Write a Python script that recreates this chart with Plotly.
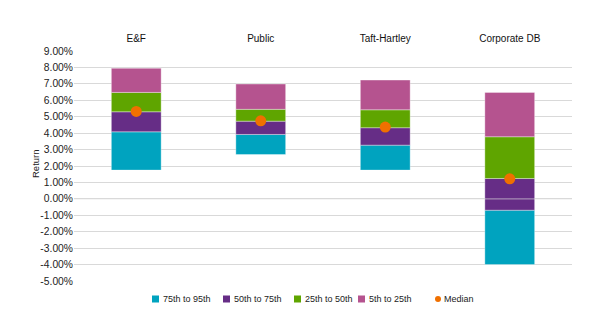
import plotly.graph_objects as go

# Return distribution by plan type (percent)
categories = ["E&F", "Public", "Taft-Hartley", "Corporate DB"]
p95 = [1.75, 2.70, 1.75, -4.00]
p75 = [4.08, 3.92, 3.27, -0.69]
p50 = [5.30, 4.73, 4.33, 1.24]
p25 = [6.48, 5.45, 5.42, 3.78]
p5 = [7.95, 6.99, 7.23, 6.48]
median = [5.32, 4.75, 4.37, 1.22]

tick_vals = [9, 8, 7, 6, 5, 4, 3, 2, 1, 0, -1, -2, -3, -4, -5]
tick_text = ["9.00%", "8.00%", "7.00%", "6.00%", "5.00%", "4.00%", "3.00%",
             "2.00%", "1.00%", "0.00%", "-1.00%", "-2.00%", "-3.00%",
             "-4.00%", "-5.00%"]

band_names = ["75th to 95th", "50th to 75th", "25th to 50th", "5th to 25th"]
band_lows = [p95, p75, p50, p25]
band_highs = [p75, p50, p25, p5]
band_colors = ["#00A3BF", "#662D86", "#5FA500", "#B5538F"]
median_color = "#F07000"
font_family = "Liberation Sans, Arial, sans-serif"

W, H = 596, 330
ML, MR, MT, MB = 74, 24, 51, 49

fig = go.Figure()

for name, lo, hi, color in zip(band_names, band_lows, band_highs, band_colors):
    fig.add_trace(go.Bar(
        x=categories,
        y=[h - l for l, h in zip(lo, hi)],
        base=lo,
        name=name,
        marker=dict(color=color, line=dict(color="rgba(255,255,255,0.35)", width=1)),
        width=0.4,
        showlegend=False,
        hoverinfo="skip",
    ))

fig.add_trace(go.Scatter(
    x=categories, y=median, mode="markers", name="Median",
    marker=dict(color=median_color, size=11, line=dict(width=0)),
    showlegend=False,
))

# zero reference line drawn over the bars
fig.add_shape(type="line", xref="paper", yref="y", x0=0, x1=1, y0=0, y1=0,
              line=dict(color="rgba(220,220,220,0.55)", width=1.2), layer="above")


# helpers: pixel position -> paper fraction
def px_x(px):
    return (px - ML) / (W - ML - MR)


def px_y(py):
    return (H - MB - py) / (H - MT - MB)


# compact legend row below the plot
legend_y = 299
swatch_left = [152, 223, 294, 358]
for left, name, color in zip(swatch_left, band_names, band_colors):
    fig.add_shape(type="rect", xref="paper", yref="paper",
                  x0=px_x(left), x1=px_x(left + 7),
                  y0=px_y(legend_y + 3.5), y1=px_y(legend_y - 3.5),
                  fillcolor=color, line=dict(width=0))
    fig.add_annotation(xref="paper", yref="paper", x=px_x(left + 10), y=px_y(legend_y),
                       xanchor="left", yanchor="middle", text=name, showarrow=False,
                       borderpad=0, font=dict(size=9, color="#222222"))
fig.add_shape(type="circle", xref="paper", yref="paper",
              x0=px_x(435), x1=px_x(441), y0=px_y(legend_y + 3), y1=px_y(legend_y - 3),
              fillcolor=median_color, line=dict(width=0))
fig.add_annotation(xref="paper", yref="paper", x=px_x(443), y=px_y(legend_y),
                   xanchor="left", yanchor="middle", text="Median", showarrow=False,
                   borderpad=0, font=dict(size=9, color="#222222"))

# y-axis title
fig.add_annotation(xref="paper", yref="paper", x=px_x(35), y=px_y(164),
                   xanchor="center", yanchor="middle", text="Return", textangle=-90,
                   showarrow=False, borderpad=0, font=dict(size=9.5, color="#222222"))

fig.update_layout(
    width=W, height=H,
    margin=dict(l=ML, r=MR, t=MT, b=MB, autoexpand=False),
    paper_bgcolor="white", plot_bgcolor="white",
    barmode="overlay",
    showlegend=False,
    font=dict(family=font_family, size=10, color="#222222"),
)
fig.update_xaxes(side="top", showgrid=False, showline=False,
                 ticks="outside", ticklen=4, tickcolor="rgba(0,0,0,0)",
                 tickfont=dict(size=10, color="#111111"), range=[-0.5, 3.5])
fig.update_yaxes(range=[-5, 9], tickvals=tick_vals, ticktext=tick_text,
                 showgrid=True, gridcolor="#D9D9D9", gridwidth=1, zeroline=False,
                 showline=False, ticks="", tickfont=dict(size=10.3, color="#222222"))

fig.write_html("out.html")
